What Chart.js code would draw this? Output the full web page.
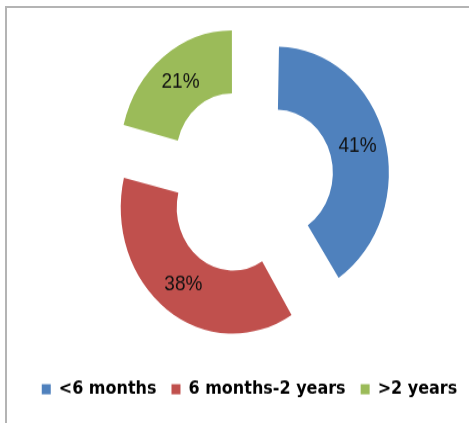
<!DOCTYPE html>
<html>
<head>
<meta charset="utf-8">
<script src="https://cdn.jsdelivr.net/npm/chart.js@4"></script>
<style>
  html, body { margin: 0; padding: 0; background: #fff; overflow: hidden; }
  #frame { position: absolute; left: 5px; top: 6px; width: 480px; height: 440px; border: 2px solid #b4b4b4; }
  #chart { position: absolute; left: 0; top: 0; transform: scaleY(1.125); transform-origin: 0 0; }
</style>
</head>
<body>
<div id="frame"></div>
<canvas id="chart" width="479" height="376"></canvas>
<script>
const categories = ['<6 months', '6 months-2 years', '>2 years'];
const shares = [41, 38, 21];
const sliceColors = ['#4F81BD', '#C0504D', '#9BBB59'];

// how far every slice is pulled away from the middle (chart.js moves it by offset / 4)
const EXPLODE = 114;

// an offset arc also gets its radii pushed out by an amount that depends on its size
function radiusShift(arc) {
  return EXPLODE / 4 * (1 - Math.sin(Math.min(Math.PI, arc.circumference)));
}

// take that push back so all three pieces sit on the same ring
const keepRadius = {
  id: 'keepRadius',
  afterDatasetUpdate(chart, args) {
    args.meta.data.forEach(arc => {
      const shift = radiusShift(arc);
      arc.outerRadius -= shift;
      arc.innerRadius -= shift;
    });
  }
};

// percentage text in the middle of each (moved) slice
const sliceLabels = {
  id: 'sliceLabels',
  afterDatasetsDraw(chart) {
    const ctx = chart.ctx;
    const meta = chart.getDatasetMeta(0);
    ctx.save();
    ctx.font = '19px "Liberation Sans", Arial, sans-serif';
    ctx.fillStyle = '#111';
    ctx.textAlign = 'center';
    ctx.textBaseline = 'middle';
    meta.data.forEach((arc, i) => {
      const mid = (arc.startAngle + arc.endAngle) / 2;
      const r = (arc.innerRadius + arc.outerRadius) / 2 + radiusShift(arc) + EXPLODE / 4;
      ctx.fillText(shares[i] + '%', arc.x + Math.cos(mid) * r, arc.y + Math.sin(mid) * r);
    });
    ctx.restore();
  }
};

new Chart('chart', {
  type: 'doughnut',
  data: {
    labels: categories,
    datasets: [{
      data: shares,
      backgroundColor: sliceColors,
      borderWidth: 0,
      offset: EXPLODE,
      hoverOffset: EXPLODE
    }]
  },
  options: {
    responsive: false,
    animation: false,
    radius: 112,
    cutout: '50%',
    layout: {
      padding: {left: 20, right: 0, top: 0, bottom: 12}
    },
    plugins: {
      legend: {
        position: 'bottom',
        labels: {
          boxWidth: 9,
          boxHeight: 9,
          padding: 15,
          color: '#000',
          font: {family: '"DejaVu Sans"', size: 16, weight: 'bold'}
        }
      },
      tooltip: {enabled: false}
    }
  },
  plugins: [keepRadius, sliceLabels]
});
</script>
</body>
</html>
